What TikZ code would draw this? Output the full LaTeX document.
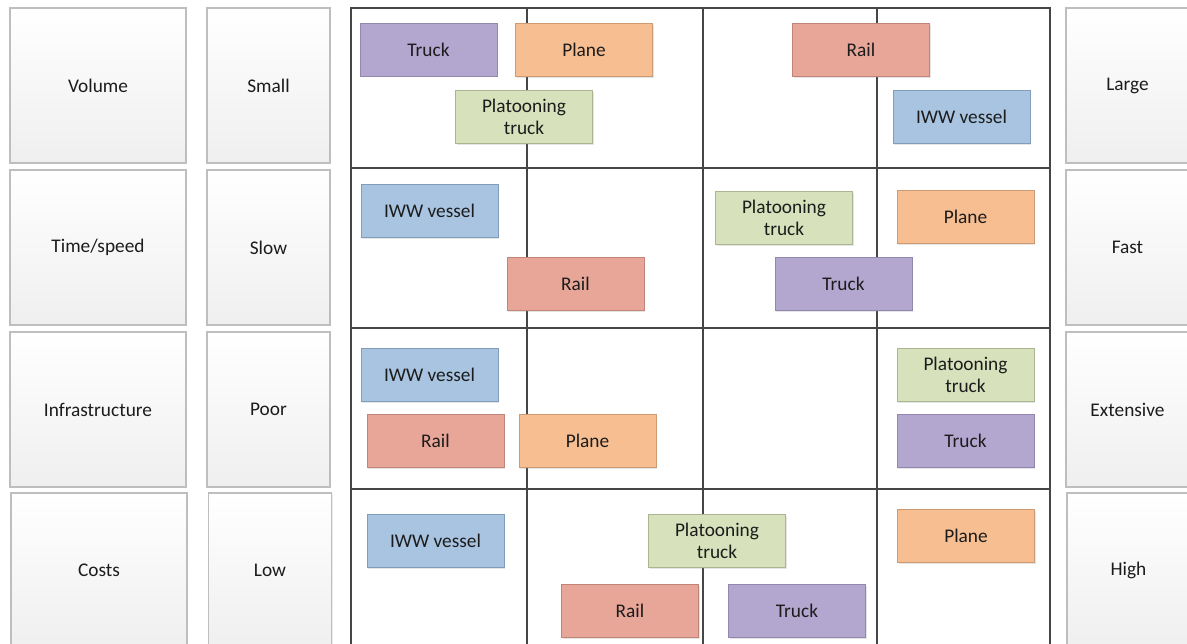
\documentclass[tikz,border=0pt]{standalone}
\usepackage{fontspec}
\setmainfont{Carlito}
\usepackage{tikz}
\usetikzlibrary{
	positioning,
	shadows
}
\definecolor{GridGray}{RGB}{70,70,70}
\definecolor{SideLine}{RGB}{190,190,190}
\definecolor{SideBottom}{RGB}{239,239,239}
\definecolor{TextGray}{RGB}{28,28,28}
\definecolor{TruckFill}{RGB}{179,167,208}
\definecolor{TruckLine}{RGB}{145,135,175}
\definecolor{PlaneFill}{RGB}{246,190,145}
\definecolor{PlaneLine}{RGB}{205,155,115}
\definecolor{PlatFill}{RGB}{215,225,187}
\definecolor{PlatLine}{RGB}{170,182,145}
\definecolor{RailFill}{RGB}{232,166,152}
\definecolor{RailLine}{RGB}{192,132,120}
\definecolor{IWWFill}{RGB}{168,196,224}
\definecolor{IWWLine}{RGB}{130,157,188}

\tikzset{
	sidebox/.style={
		draw=SideLine,
		line width=0.6pt,
		top color=white,
		bottom color=SideBottom,
		minimum height=3.10cm,
		text=TextGray,
		font=\fontsize{11}{13}\selectfont,
		drop shadow={opacity=0.15, shadow xshift=0.8pt, shadow yshift=-0.8pt}
	},
	criterion/.style={sidebox, minimum width=3.52cm},
	level/.style={sidebox, minimum width=2.46cm},
	mode/.style={
		rectangle,
		line width=0.5pt,
		minimum width=2.74cm,
		minimum height=1.06cm,
		inner sep=1pt,
		align=center,
		text=TextGray,
		font=\fontsize{11}{12.5}\selectfont,
		drop shadow={opacity=0.2, shadow xshift=0.8pt, shadow yshift=-0.8pt}
	},
	truck/.style={mode, fill=TruckFill, draw=TruckLine},
	plane/.style={mode, fill=PlaneFill, draw=PlaneLine},
	plat/.style={mode, fill=PlatFill, draw=PlatLine},
	rail/.style={mode, fill=RailFill, draw=RailLine},
	iww/.style={mode, fill=IWWFill, draw=IWWLine}
}

\begin{document}
\begin{tikzpicture}[x=0.02cm, y=-0.02cm]
	
	\clip (0,0) rectangle (1187,644);
	\fill[white] (0,0) rectangle (1187,644);
	
	% criteria and levels
	\node[criterion] (volume) at (98,85.5) {Volume};
	\node[criterion] (time) at (98,247.5) {Time/speed};
	\node[criterion] (infra) at (98,409.5) {Infrastructure};
	\node[criterion] (costs) at (99,570.5) {Costs};
	
	\node[level] (small) at (268.5,85.5) {Small};
	\node[level] (slow) at (268.5,247.5) {Slow};
	\node[level] (poor) at (268.5,409.5) {Poor};
	\node[level] (low) at (270,570.5) {Low};
	
	\node[level] (large) at (1127.5,85.5) {Large};
	\node[level] (fast) at (1127.5,247.5) {Fast};
	\node[level] (extensive) at (1127.5,409.5) {Extensive};
	\node[level] (high) at (1128.5,570.5) {High};
	
	% grid
	\draw[GridGray, line width=0.8pt] (351,660) -- (351,8) -- (1050,8) -- (1050,660);
	\foreach \gx in {527,703,877}
	\draw[GridGray, line width=0.8pt] (\gx,8) -- (\gx,660);
	\foreach \gy in {168,328,489}
	\draw[GridGray, line width=0.8pt] (351,\gy) -- (1050,\gy);
	
	% volume
	\node[truck] (truck1) at (428.5,49.5) {Truck};
	\node[plane] (plane1) at (584,50) {Plane};
	\node[plat] (plat1) at (524,117) {Platooning\\truck};
	\node[rail] (rail1) at (861,50) {Rail};
	\node[iww] (iww1) at (961.5,117) {IWW vessel};
	
	% time/speed
	\node[iww] (iww2) at (429.5,211) {IWW vessel};
	\node[rail] (rail2) at (575.5,284) {Rail};
	\node[plat] (plat2) at (784,218) {Platooning\\truck};
	\node[plane] (plane2) at (965.5,217) {Plane};
	\node[truck] (truck2) at (843.5,284) {Truck};
	
	% infrastructure
	\node[iww] (iww3) at (429.5,375) {IWW vessel};
	\node[rail] (rail3) at (435.5,441) {Rail};
	\node[plane] (plane3) at (587.5,441) {Plane};
	\node[plat] (plat3) at (965.5,375) {Platooning\\truck};
	\node[truck] (truck3) at (965.5,441) {Truck};
	
	% costs
	\node[iww] (iww4) at (435.5,541) {IWW vessel};
	\node[plat] (plat4) at (717,541) {Platooning\\truck};
	\node[plane] (plane4) at (966,536) {Plane};
	\node[rail] (rail4) at (630,611) {Rail};
	\node[truck] (truck4) at (797,611) {Truck};
	
\end{tikzpicture}
\end{document}
